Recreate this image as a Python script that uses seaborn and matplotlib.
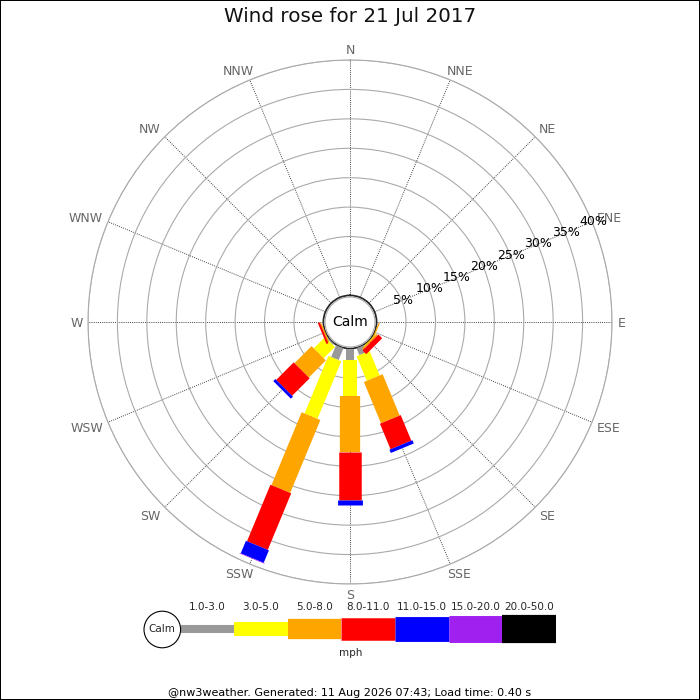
import numpy as np
import pandas as pd
import matplotlib
matplotlib.use("Agg")
import matplotlib.pyplot as plt
import seaborn as sns
from matplotlib.patches import Circle

# ---------------- data ----------------
title = "Wind rose for 21 Jul 2017"
footer = "@nw3weather. Generated: 11 Aug 2026 07:43; Load time: 0.40 s"
unit_label = "mph"
directions = ["N", "NNE", "NE", "ENE", "E", "ESE", "SE", "SSE",
              "S", "SSW", "SW", "WSW", "W", "WNW", "NW", "NNW"]
speed_bins = ["1.0-3.0", "3.0-5.0", "5.0-8.0", "8.0-11.0",
              "11.0-15.0", "15.0-20.0", "20.0-50.0"]
# percentage of time per direction, one list per speed bin
pct_1_3   = [0, 0, 0, 0, 0, 0,    0,    1.3,  2.0, 2.2,  0.3, 0,    0, 0, 0, 0]
pct_3_5   = [0, 0, 0, 0, 0, 0.05, 0.1,  4.5,  6.1, 10.6, 2.7, 0.05, 0, 0, 0, 0]
pct_5_8   = [0, 0, 0, 0, 0, 0.2,  0.3,  7.6,  9.5, 13.4, 4.1, 0.2,  0, 0, 0, 0]
pct_8_11  = [0, 0, 0, 0, 0, 0,    0.9,  4.7,  8.1, 10.4, 4.2, 0.35, 0, 0, 0, 0]
pct_11_15 = [0, 0, 0, 0, 0, 0,    0,    0.6,  0.9, 2.3,  0.5, 0,    0, 0, 0, 0]
pct_15_20 = [0, 0, 0, 0, 0, 0,    0,    0,    0,   0.1,  0,   0,    0, 0, 0, 0]
pct_20_50 = [0, 0, 0, 0, 0, 0,    0,    0,    0,   0,    0,   0,    0, 0, 0, 0]
radial_ticks = [5, 10, 15, 20, 25, 30, 35, 40]

# ---------------- style ----------------
bin_colors = ["#999999", "#ffff00", "#ffa500", "#ff0000", "#0000ff", "#a020f0", "#000000"]
bin_widths = [5.8, 10.1, 14.6, 16.2, 17.9, 19.4, 20.3]   # points

sns.set_theme(style="white")
plt.rcParams["font.family"] = ["DejaVu Sans"]
plt.rcParams["lines.solid_capstyle"] = "butt"

series = [pct_1_3, pct_3_5, pct_5_8, pct_8_11, pct_11_15, pct_15_20, pct_20_50]
rows = []
seg = 0
for i, d in enumerate(directions):
    theta = np.deg2rad(i * 22.5)
    start = 0.0
    for j, b in enumerate(speed_bins):
        v = series[j][i]
        if v > 0:
            rows.append(dict(theta=theta, r=start, seg=seg, bin=b))
            rows.append(dict(theta=theta, r=start + v, seg=seg, bin=b))
            seg += 1
            start += v
df = pd.DataFrame(rows)

fig = plt.figure(figsize=(7, 7), dpi=100, linewidth=1.2, edgecolor="black")
fig.patch.set_facecolor("white")

cx, cy, R = 350, 322, 262
ax = fig.add_axes([(cx - R) / 700, 1 - (cy + R) / 700, 2 * R / 700, 2 * R / 700],
                  projection="polar")
ax.set_theta_zero_location("N")
ax.set_theta_direction(-1)

sns.lineplot(data=df, x="theta", y="r", units="seg", estimator=None, sort=False,
             hue="bin", hue_order=speed_bins, palette=dict(zip(speed_bins, bin_colors)),
             size="bin", size_order=speed_bins, sizes=dict(zip(speed_bins, bin_widths)),
             legend=False, ax=ax, zorder=4)
for ln in ax.get_lines():
    ln.set_solid_capstyle("butt")

ax.set_xlabel("")
ax.set_ylabel("")
ax.set_ylim(0, 40)
ax.set_rorigin(-4.52)
dir_angles = np.deg2rad(np.arange(16) * 22.5)
ax.set_xticks(dir_angles)
ax.set_xticklabels([])
ax.set_yticks(radial_ticks)
ax.set_yticklabels([])
ax.xaxis.grid(True, linestyle=(0, (1, 1.2)), color="#444444", linewidth=0.7)
ax.yaxis.grid(True, linestyle="-", color="#aaaaaa", linewidth=0.8)
ax.spines["polar"].set_color("#aaaaaa")
ax.spines["polar"].set_linewidth(0.8)
if "inner" in ax.spines:
    ax.spines["inner"].set_visible(False)
ax.set_facecolor("white")

# compass labels outside the ring, box kept at a fixed gap from the circle
renderer = fig.canvas.get_renderer()
cap_half = 0.729 * 9 / 72 * 100 / 2
gap = 5.5
for th, lab in zip(dir_angles, directions):
    t = ax.annotate(lab, xy=(th, 40), xycoords="data", xytext=(0, 0),
                    textcoords="offset pixels", ha="center", va="baseline",
                    fontsize=9, color="#666666", annotation_clip=False)
    w = t.get_window_extent(renderer).width
    ux, uy = np.sin(th), np.cos(th)
    ox = gap * ux + (w / 2) * np.sign(ux) * min(1.0, 1.5 * abs(ux))
    oy = gap * uy + cap_half * np.sign(uy) * min(1.0, 1.5 * abs(uy)) - cap_half
    t.set_position((ox, oy))

for v in radial_ticks:
    ax.text(np.deg2rad(67.5), v + 0.15, f"{v}%", ha="center", va="center",
            fontsize=9, color="black", zorder=5)

ax.add_patch(Circle((0.5, 0.5), 25.0 / (2 * R), transform=ax.transAxes,
                    facecolor="white", edgecolor="#aaaaaa", linewidth=0.8,
                    zorder=10, clip_on=False))
ax.text(0.5, 0.5, "Calm", transform=ax.transAxes, ha="center", va="center",
        fontsize=10, color="black", zorder=11)

# ---------------- legend ----------------
lx0, lx1, ly0, ly1 = 130, 570, 590, 670
lax = fig.add_axes([lx0 / 700, 1 - ly1 / 700, (lx1 - lx0) / 700, (ly1 - ly0) / 700])
lax.set_xlim(lx0, lx1)
lax.set_ylim(ly1, ly0)
lax.axis("off")
lax.add_patch(Circle((162.3, 629.5), 18.3, facecolor="white", edgecolor="black",
                     linewidth=0.8, zorder=3))
lax.text(162.3, 629.5, "Calm", ha="center", va="center", fontsize=7.5)
seg_w = 53.6
for j, b in enumerate(speed_bins):
    x0 = 180.6 + j * seg_w
    lax.plot([x0, x0 + seg_w], [629.3, 629.3], color=bin_colors[j],
             linewidth=bin_widths[j], solid_capstyle="butt")
    lax.text(x0 + seg_w / 2, 607, b, ha="center", va="center", fontsize=7.5)
lax.text(351, 653, unit_label, ha="center", va="center", fontsize=7.5)

fig.text(0.5, 1 - 17 / 700, title, ha="center", va="center", fontsize=14.3, color="#111111")
fig.text(0.5, 1 - 692.5 / 700, footer, ha="center", va="center", fontsize=8, color="black")

fig.savefig("out.png", dpi=100, facecolor="white", edgecolor="black")
